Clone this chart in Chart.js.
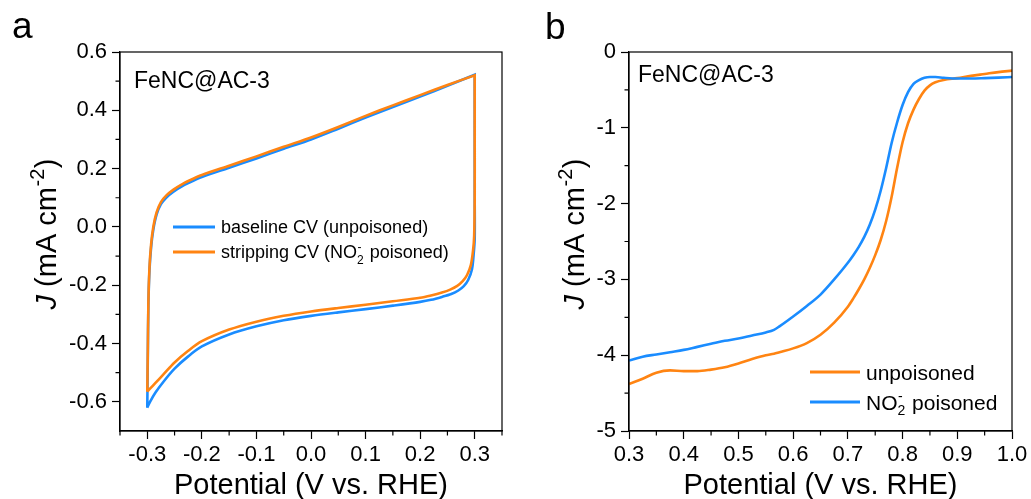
<!DOCTYPE html>
<html>
<head>
<meta charset="utf-8">
<script src="https://cdn.jsdelivr.net/npm/chart.js@4.4.0/dist/chart.umd.min.js"></script>
<style>
  body { margin: 0; background: #fff; width: 1031px; height: 499px; overflow: hidden; position: relative; }
  canvas { position: absolute; top: 0; }
  #cv { left: 0; }
  #lsv { left: 515px; }
</style>
</head>
<body>
<canvas id="cv" width="515" height="499"></canvas>
<canvas id="lsv" width="516" height="499"></canvas>
<script>
// painel a - CV (loop fechado: varredura anodica e depois catodica; vertices repetidos)
var cvBaseV = [-0.300, -0.299, -0.298, -0.296, -0.293, -0.289, -0.283, -0.275, -0.265, -0.252, -0.235, -0.215, -0.200, -0.150, -0.100, -0.050, 0.000, 0.050, 0.100, 0.150, 0.200, 0.250, 0.300,
  0.300, 0.300, 0.300, 0.300, 0.298, 0.295, 0.288, 0.280, 0.270, 0.257, 0.240, 0.220, 0.200, 0.150, 0.100, 0.050, 0.000, -0.050, -0.100, -0.150, -0.200, -0.225, -0.250, -0.270, -0.285, -0.295, -0.300];
var cvBaseJ = [-0.620, -0.440, -0.270, -0.150, -0.070, -0.010, 0.042, 0.078, 0.101, 0.121, 0.141, 0.159, 0.171, 0.203, 0.235, 0.268, 0.300, 0.337, 0.375, 0.411, 0.447, 0.484, 0.522,
  0.522, 0.300, 0.100, -0.040, -0.095, -0.145, -0.182, -0.203, -0.218, -0.230, -0.240, -0.250, -0.257, -0.270, -0.282, -0.293, -0.305, -0.320, -0.341, -0.369, -0.410, -0.444, -0.486, -0.530, -0.568, -0.600, -0.620];

var cvStripV = [-0.300, -0.299, -0.298, -0.296, -0.293, -0.289, -0.283, -0.275, -0.265, -0.252, -0.235, -0.215, -0.200, -0.150, -0.100, -0.050, 0.000, 0.050, 0.100, 0.150, 0.200, 0.250, 0.300,
  0.300, 0.300, 0.300, 0.299, 0.297, 0.293, 0.286, 0.278, 0.268, 0.255, 0.240, 0.220, 0.200, 0.150, 0.100, 0.050, 0.000, -0.050, -0.100, -0.150, -0.200, -0.225, -0.250, -0.270, -0.285, -0.295, -0.300];
var cvStripJ = [-0.565, -0.420, -0.260, -0.140, -0.060, 0.000, 0.050, 0.085, 0.108, 0.128, 0.148, 0.166, 0.178, 0.210, 0.242, 0.275, 0.307, 0.343, 0.381, 0.417, 0.452, 0.487, 0.520,
  0.520, 0.300, 0.100, -0.030, -0.080, -0.130, -0.165, -0.186, -0.202, -0.215, -0.225, -0.235, -0.243, -0.255, -0.267, -0.278, -0.290, -0.305, -0.325, -0.352, -0.392, -0.425, -0.465, -0.505, -0.535, -0.555, -0.565];

var cvTicksX = [-0.3, -0.2, -0.1, 0, 0.1, 0.2, 0.3];
var cvTicksY = [-0.6, -0.4, -0.2, 0, 0.2, 0.4, 0.6];
var cvMinorX = [-0.35, -0.25, -0.15, -0.05, 0.05, 0.15, 0.25, 0.35];
var cvMinorY = [-0.5, -0.3, -0.1, 0.1, 0.3, 0.5];

// painel b - LSV
var lsvV = [0.300, 0.325, 0.350, 0.375, 0.400, 0.425, 0.450, 0.475, 0.500, 0.525, 0.550, 0.565, 0.575, 0.600, 0.625, 0.650, 0.675, 0.700,
  0.710, 0.720, 0.730, 0.740, 0.750, 0.760, 0.770, 0.780, 0.790, 0.800, 0.810, 0.820, 0.830, 0.840, 0.850, 0.860, 0.875, 0.900, 0.925, 0.950, 0.975, 1.000];
var lsvUnpoisoned = [-4.38, -4.31, -4.23, -4.20, -4.21, -4.21, -4.19, -4.16, -4.11, -4.05, -4.00, -3.98, -3.96, -3.91, -3.84, -3.73, -3.57, -3.36,
  -3.25, -3.13, -3.00, -2.85, -2.68, -2.48, -2.23, -1.91, -1.53, -1.19, -0.94, -0.76, -0.62, -0.51, -0.44, -0.40, -0.37, -0.345, -0.315, -0.29, -0.265, -0.246];
var lsvPoisoned = [-4.07, -4.02, -3.99, -3.96, -3.93, -3.89, -3.85, -3.81, -3.78, -3.74, -3.70, -3.665, -3.62, -3.49, -3.35, -3.20, -3.00, -2.78,
  -2.68, -2.57, -2.44, -2.28, -2.08, -1.83, -1.53, -1.20, -0.93, -0.70, -0.53, -0.42, -0.37, -0.34, -0.33, -0.33, -0.34, -0.35, -0.35, -0.345, -0.338, -0.33];

var lsvTicksX = [0.3, 0.4, 0.5, 0.6, 0.7, 0.8, 0.9, 1.0];
var lsvTicksY = [-5, -4, -3, -2, -1, 0];
var lsvMinorX = [0.35, 0.45, 0.55, 0.65, 0.75, 0.85, 0.95];
var lsvMinorY = [-4.5, -3.5, -2.5, -1.5, -0.5];

var azul = '#1a8cff';
var laranja = '#ff8412';
var FONTE = '"Liberation Sans", Arial, sans-serif';

function pontos(xs, ys) {
  var r = [];
  for (var i = 0; i < xs.length; i++) r.push({ x: xs[i], y: ys[i] });
  return r;
}

// texto com subscrito / sobrescrito empilhados
function medir(ctx, partes, tam) {
  var w = 0;
  partes.forEach(function (p) {
    if (p.t) {
      ctx.font = (p.i ? 'italic ' : '') + tam + 'px ' + FONTE;
      w += ctx.measureText(p.t).width;
    } else {
      ctx.font = Math.round(tam * 0.68) + 'px ' + FONTE;
      var a = p.sub ? ctx.measureText(p.sub).width : 0;
      var b = p.sup ? ctx.measureText(p.sup).width : 0;
      w += Math.max(a, b) + 1;
    }
  });
  return w;
}

function escrever(ctx, partes, x, y, tam, cor) {
  ctx.fillStyle = cor || '#000';
  ctx.textBaseline = 'alphabetic';
  ctx.textAlign = 'left';
  partes.forEach(function (p) {
    if (p.t) {
      ctx.font = (p.i ? 'italic ' : '') + tam + 'px ' + FONTE;
      ctx.fillText(p.t, x, y);
      x += ctx.measureText(p.t).width;
    } else {
      ctx.font = Math.round(tam * 0.68) + 'px ' + FONTE;
      var a = 0, b = 0;
      if (p.sub) { ctx.fillText(p.sub, x, y + tam * 0.28); a = ctx.measureText(p.sub).width; }
      if (p.sup) { ctx.fillText(p.sup, x + 0.5, y - tam * 0.40); b = ctx.measureText(p.sup).width; }
      x += Math.max(a, b) + 1;
    }
  });
}

function decoracao(cfg) {
  return {
    id: 'deco',
    afterDraw: function (chart) {
      var ctx = chart.ctx, ca = chart.chartArea;
      var sx = chart.scales.x, sy = chart.scales.y;
      ctx.save();
      ctx.strokeStyle = '#000';
      ctx.lineWidth = 1.2;
      ctx.strokeRect(ca.left, ca.top, ca.right - ca.left, ca.bottom - ca.top);

      ctx.beginPath();
      cfg.minorX.forEach(function (v) {
        var p = sx.getPixelForValue(v);
        ctx.moveTo(p, ca.bottom); ctx.lineTo(p, ca.bottom + 4.5);
      });
      cfg.minorY.forEach(function (v) {
        var p = sy.getPixelForValue(v);
        ctx.moveTo(ca.left, p); ctx.lineTo(ca.left - 4.5, p);
      });
      ctx.stroke();

      // titulo eixo x
      var tx = [{ t: 'Potential (V vs. RHE)' }];
      var w = medir(ctx, tx, 29);
      escrever(ctx, tx, (ca.left + ca.right) / 2 - w / 2, 494, 29);

      // titulo eixo y
      var ty = [{ t: 'J', i: true }, { t: ' (mA cm' }, { sup: '-2' }, { t: ')' }];
      w = medir(ctx, ty, 29);
      ctx.save();
      ctx.translate(cfg.yTituloX, 234);
      ctx.rotate(-Math.PI / 2);
      escrever(ctx, ty, -w / 2, 0, 29);
      ctx.restore();

      // amostra
      escrever(ctx, [{ t: 'FeNC@AC-3' }], cfg.amostra[0], cfg.amostra[1], 23);

      // letra do painel
      escrever(ctx, [{ t: cfg.letra[0] }], cfg.letra[1], cfg.letra[2], 37);

      // legenda
      var lg = cfg.legenda;
      lg.itens.forEach(function (it, k) {
        var y = lg.y + k * lg.dy;
        ctx.strokeStyle = it.cor;
        ctx.lineWidth = 3;
        ctx.beginPath();
        ctx.moveTo(lg.x, y); ctx.lineTo(lg.x + lg.len, y);
        ctx.stroke();
        escrever(ctx, it.texto, lg.x + lg.len + 6, y + lg.tam * 0.36, lg.tam);
      });
      ctx.restore();
    }
  };
}

function eixos(minX, maxX, ticksX, minY, maxY, ticksY, larguraY, fmtY) {
  var fonteTick = { family: FONTE, size: 22 };
  return {
    x: {
      type: 'linear', min: minX, max: maxX,
      afterBuildTicks: function (s) { s.ticks = ticksX.map(function (v) { return { value: v }; }); },
      afterFit: function (s) { s.height = 68; },
      grid: { drawOnChartArea: false, drawTicks: true, tickLength: 8, tickColor: '#000', tickWidth: 1.2 },
      border: { color: '#000', width: 1.2 },
      ticks: { color: '#000', font: fonteTick, padding: 3, maxRotation: 0, autoSkip: false,
        callback: function (v) { return Number(v).toFixed(1); } }
    },
    y: {
      type: 'linear', min: minY, max: maxY,
      afterBuildTicks: function (s) { s.ticks = ticksY.map(function (v) { return { value: v }; }); },
      afterFit: function (s) { s.width = larguraY; },
      grid: { drawOnChartArea: false, drawTicks: true, tickLength: 8, tickColor: '#000', tickWidth: 1.2 },
      border: { color: '#000', width: 1.2 },
      ticks: { color: '#000', font: fonteTick, padding: 5, autoSkip: false,
        callback: function (v) { return fmtY(Number(v)); } }
    }
  };
}

var comum = {
  responsive: false,
  animation: false,
  devicePixelRatio: 1,
  plugins: { legend: { display: false }, tooltip: { enabled: false } }
};

new Chart(document.getElementById('cv'), {
  type: 'scatter',
  data: {
    datasets: [
      { label: 'baseline CV (unpoisoned)', data: pontos(cvBaseV, cvBaseJ), showLine: true, borderColor: azul, borderWidth: 2.6, pointRadius: 0, tension: 0.3, order: 1 },
      { label: 'stripping CV (NO2- poisoned)', data: pontos(cvStripV, cvStripJ), showLine: true, borderColor: laranja, borderWidth: 2.6, pointRadius: 0, tension: 0.3, order: 0 }
    ]
  },
  options: Object.assign({}, comum, {
    layout: { padding: { left: 0, right: 13, top: 52, bottom: 0 } },
    scales: eixos(-0.35, 0.35, cvTicksX, -0.7, 0.6, cvTicksY, 120, function (v) { return v.toFixed(1); })
  }),
  plugins: [decoracao({
    minorX: cvMinorX, minorY: cvMinorY, yTituloX: 56,
    amostra: [134, 88], letra: ['a', 12, 38],
    legenda: { x: 173, y: 227, dy: 25, len: 42, tam: 18, itens: [
      { cor: azul, texto: [{ t: 'baseline CV (unpoisoned)' }] },
      { cor: laranja, texto: [{ t: 'stripping CV (NO' }, { sub: '2', sup: '-' }, { t: ' poisoned)' }] }
    ] }
  })]
});

new Chart(document.getElementById('lsv'), {
  type: 'scatter',
  data: {
    datasets: [
      { label: 'unpoisoned', data: pontos(lsvV, lsvUnpoisoned), showLine: true, borderColor: laranja, borderWidth: 2.6, pointRadius: 0, cubicInterpolationMode: 'monotone', order: 1 },
      { label: 'NO2- poisoned', data: pontos(lsvV, lsvPoisoned), showLine: true, borderColor: azul, borderWidth: 2.6, pointRadius: 0, cubicInterpolationMode: 'monotone', order: 0 }
    ]
  },
  options: Object.assign({}, comum, {
    layout: { padding: { left: 0, right: 19, top: 52, bottom: 0 } },
    scales: eixos(0.3, 1.0, lsvTicksX, -5, 0, lsvTicksY, 114, function (v) { return String(Math.round(v)); })
  }),
  plugins: [decoracao({
    minorX: lsvMinorX, minorY: lsvMinorY, yTituloX: 69,
    amostra: [123, 82], letra: ['b', 30, 39],
    legenda: { x: 295, y: 372, dy: 30, len: 50, tam: 21, itens: [
      { cor: laranja, texto: [{ t: 'unpoisoned' }] },
      { cor: azul, texto: [{ t: 'NO' }, { sub: '2', sup: '-' }, { t: ' poisoned' }] }
    ] }
  })]
});
</script>
</body>
</html>
